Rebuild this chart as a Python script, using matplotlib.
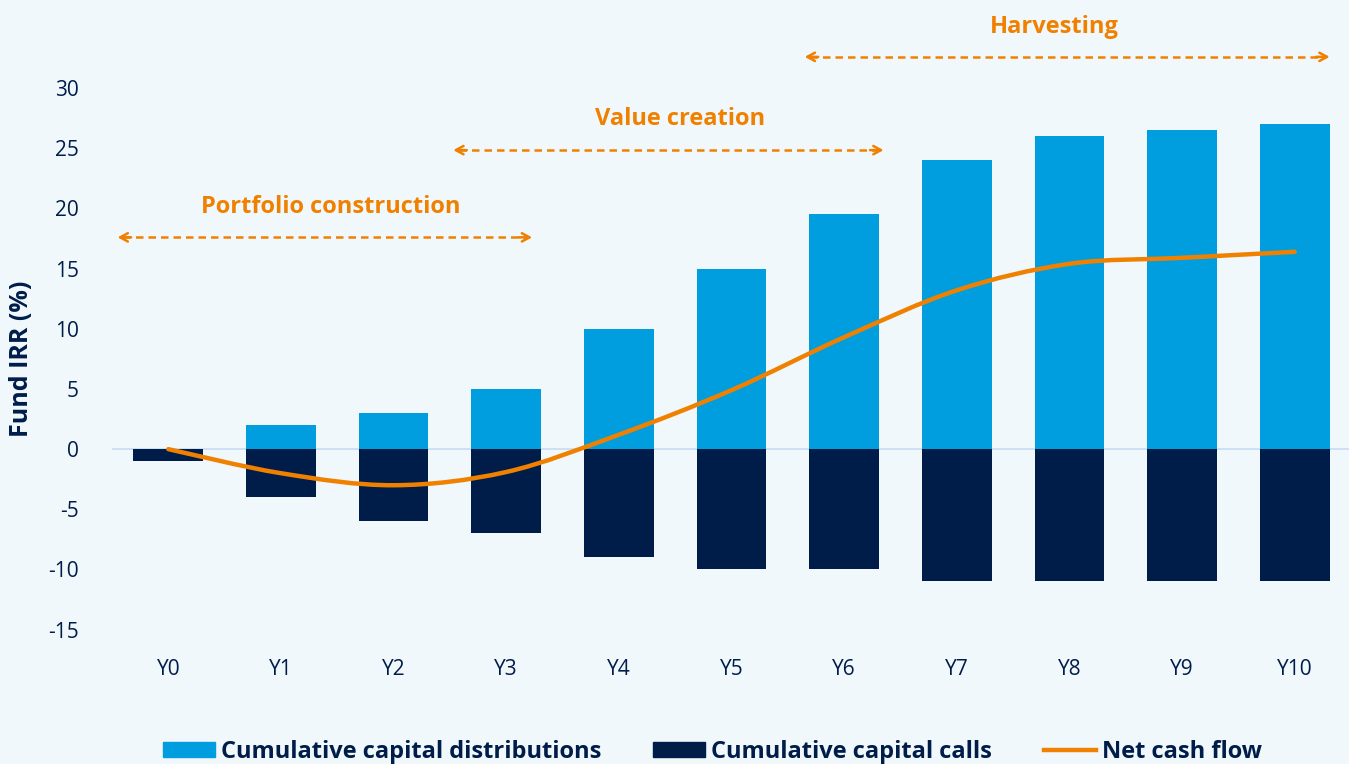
import numpy as np
import matplotlib
matplotlib.use("Agg")
import matplotlib.pyplot as plt
from matplotlib.path import Path
from matplotlib.patches import PathPatch, Patch
from matplotlib.lines import Line2D

# data
years = ["Y0", "Y1", "Y2", "Y3", "Y4", "Y5", "Y6", "Y7", "Y8", "Y9", "Y10"]
distributions = [0, 2, 3, 5, 10, 15, 19.5, 24, 26, 26.5, 27]
calls = [-1, -4, -6, -7, -9, -10, -10, -11, -11, -11, -11]
net_cash_flow = [0, -2, -3, -1.9, 1.2, 4.9, 9.3, 13.2, 15.4, 15.9, 16.4]
phases = ["Portfolio construction", "Value creation", "Harvesting"]

BG = "#f0f8fc"
LIGHT = "#009edf"
NAVY = "#001d4a"
ORANGE = "#f08100"

plt.rcParams['font.family'] = ['Open Sans', 'Noto Sans', 'DejaVu Sans']
plt.rcParams['axes.unicode_minus'] = False

fig = plt.figure(figsize=(13.49, 7.64), dpi=100, facecolor=BG)
ax = fig.add_axes([0.083, 0.168, 0.9185, 0.7245], facecolor=BG)

x = np.arange(len(years))
ax.axhline(0, color="#c6dcf3", lw=1.2, zorder=0.5)
ax.bar(x, distributions, width=0.62, color=LIGHT, zorder=2)
ax.bar(x, calls, width=0.62, color=NAVY, zorder=2)

# smooth net cash flow line drawn as a bezier path through the points
pts = np.column_stack([x, net_cash_flow]).astype(float)
verts = [pts[0]]
codes = [Path.MOVETO]
for i in range(len(pts) - 1):
    p0 = pts[max(i - 1, 0)]
    p1 = pts[i]
    p2 = pts[i + 1]
    p3 = pts[min(i + 2, len(pts) - 1)]
    verts += [p1 + (p2 - p0) / 6, p2 - (p3 - p1) / 6, p2]
    codes += [Path.CURVE4] * 3
ax.add_patch(PathPatch(Path(verts, codes), fill=False, edgecolor=ORANGE,
                       lw=3.2, capstyle="round", zorder=3))

ax.set_xlim(-0.5, 10.5)
ax.set_ylim(-15.5, 30.5)
ax.set_xticks(x)
ax.set_xticklabels(years)
ax.set_yticks(range(-15, 31, 5))
ax.tick_params(axis="both", length=0, labelsize=15, colors=NAVY)
ax.tick_params(axis="x", pad=17)
ax.tick_params(axis="y", pad=24)
for s in ax.spines.values():
    s.set_visible(False)
ax.set_ylabel("Fund IRR (%)", fontsize=18, fontweight="bold", color=NAVY, labelpad=10)

# phase arrows: (start, end, arrow y, text x, text y)
spans = [(-0.45, 3.23, 17.6, 1.44, 20.1),
         (2.53, 6.35, 24.85, 4.54, 27.4),
         (5.65, 10.31, 32.6, 7.87, 35.1)]
for label, (x0, x1, ya, tx, ty) in zip(phases, spans):
    ax.plot([x0 + 0.05, x1 - 0.05], [ya, ya], ls=(0, (3, 2)), lw=1.8,
            color=ORANGE, clip_on=False, zorder=4)
    for a, b in [(x0, x0 + 0.12), (x1, x1 - 0.12)]:
        ax.annotate("", xy=(a, ya), xytext=(b, ya), annotation_clip=False,
                    arrowprops=dict(arrowstyle="->,head_length=0.55,head_width=0.3",
                                    color=ORANGE, lw=1.8, shrinkA=0, shrinkB=0))
    ax.text(tx, ty, label, ha="center", va="center", fontsize=17,
            fontweight="bold", color=ORANGE, clip_on=False)

handles = [Patch(color=LIGHT), Patch(color=NAVY),
           Line2D([], [], color=ORANGE, lw=3.2)]
labels = ["Cumulative capital distributions", "Cumulative capital calls", "Net cash flow"]
leg = fig.legend(handles, labels, loc="center", bbox_to_anchor=(0.528, 0.016),
                 ncol=3, frameon=False, fontsize=17, handlelength=2.2,
                 handleheight=0.55, handletextpad=0.25, columnspacing=2.2)
for t in leg.get_texts():
    t.set_color(NAVY)
    t.set_fontweight("bold")

fig.savefig("out.png", dpi=100, facecolor=BG)
